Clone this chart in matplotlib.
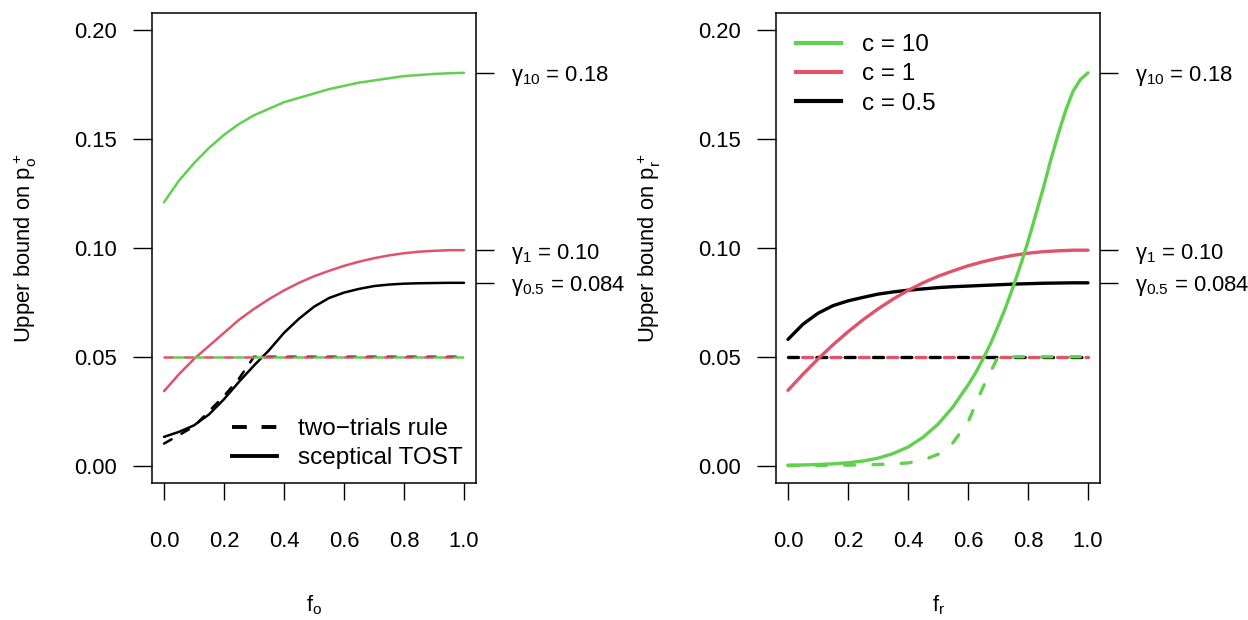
import numpy as np
import matplotlib
matplotlib.use("Agg")
import matplotlib.pyplot as plt
from matplotlib.lines import Line2D

plt.rcParams['font.family'] = ['Liberation Sans', 'DejaVu Sans']
plt.rcParams['mathtext.fontset'] = 'custom'
plt.rcParams['mathtext.rm'] = 'Liberation Sans'
plt.rcParams['mathtext.it'] = 'Liberation Sans'
plt.rcParams['mathtext.bf'] = 'Liberation Sans:bold'

# ---- data ----
f = np.round(np.arange(0, 1.0001, 0.05), 2)

# left panel: bound on p_o^+ against f_o (solid = sceptical TOST)
po_c10 = [0.121, 0.131, 0.139, 0.146, 0.152, 0.157, 0.161, 0.164, 0.167, 0.169, 0.171,
          0.173, 0.1745, 0.176, 0.177, 0.178, 0.179, 0.1795, 0.180, 0.1803, 0.1805]
po_c1 = [0.0342, 0.042, 0.049, 0.055, 0.061, 0.067, 0.072, 0.0765, 0.0805, 0.084, 0.087,
         0.0895, 0.0918, 0.0937, 0.0953, 0.0966, 0.0976, 0.0983, 0.0987, 0.099, 0.099]
po_c05 = [0.0132, 0.0155, 0.0185, 0.0235, 0.0305, 0.0385, 0.046, 0.053, 0.061, 0.0675, 0.073,
          0.077, 0.0795, 0.0812, 0.0825, 0.0832, 0.0836, 0.0838, 0.0839, 0.084, 0.084]
# dashed = two-trials rule
po2_c10 = [0.05] * 21
po2_c1 = [0.05] * 21
po2_c05 = [0.0101, 0.014, 0.018, 0.025, 0.032, 0.040, 0.050, 0.05, 0.05, 0.05, 0.05,
           0.05, 0.05, 0.05, 0.05, 0.05, 0.05, 0.05, 0.05, 0.05, 0.05]

# right panel: bound on p_r^+ against f_r
f_g = [0.0, 0.05, 0.1, 0.15, 0.2, 0.25, 0.3, 0.35, 0.4, 0.45, 0.5, 0.55, 0.6, 0.625, 0.65,
       0.675, 0.7, 0.725, 0.75, 0.775, 0.8, 0.825, 0.85, 0.875, 0.9, 0.925, 0.95, 0.975, 1.0]
pr_c10 = [0.0002, 0.0003, 0.0005, 0.0008, 0.0013, 0.0021, 0.0034, 0.0055, 0.0085, 0.013, 0.019,
          0.027, 0.037, 0.0425, 0.049, 0.056, 0.064, 0.0725, 0.082, 0.092, 0.103, 0.115,
          0.127, 0.140, 0.152, 0.163, 0.172, 0.1775, 0.1805]
pr_c1 = [0.0346, 0.042, 0.049, 0.0555, 0.0615, 0.067, 0.072, 0.0765, 0.0805, 0.084, 0.087,
         0.0895, 0.0918, 0.0937, 0.0953, 0.0966, 0.0976, 0.0983, 0.0987, 0.099, 0.099]
pr_c05 = [0.058, 0.065, 0.070, 0.0735, 0.0757, 0.0773, 0.0788, 0.0798, 0.0806, 0.0812, 0.0818,
          0.0822, 0.0825, 0.0828, 0.0831, 0.0834, 0.0836, 0.0838, 0.0839, 0.084, 0.084]
pr2_c10 = [0.0, 0.0, 0.0, 0.0001, 0.0002, 0.0003, 0.0005, 0.0008, 0.0012, 0.0025, 0.0052,
           0.0105, 0.020, 0.036, 0.050, 0.05, 0.05, 0.05, 0.05, 0.05, 0.05]
pr2_c1 = [0.05] * 21
pr2_c05 = [0.05] * 21

gammas = [0.1805, 0.0989, 0.0840]
gamma_labels = [r'$\gamma_{10}$ = 0.18', r'$\gamma_{1}$ = 0.10', r'$\gamma_{0.5}$ = 0.084']
c_labels = ['c = 10', 'c = 1', 'c = 0.5']
col = {'c10': '#61D04F', 'c1': '#DF536B', 'c05': 'black'}

FS = 15.8
FS_LEG = 17.5


def setup_axes(ax, xlab, ylab):
    ax.set_xlim(-0.04, 1.04)
    ax.set_ylim(-0.008, 0.208)
    ax.set_xticks([0, 0.2, 0.4, 0.6, 0.8, 1.0])
    ax.set_xticklabels(['0.0', '0.2', '0.4', '0.6', '0.8', '1.0'])
    ax.set_yticks([0, 0.05, 0.1, 0.15, 0.2])
    ax.set_yticklabels(['0.00', '0.05', '0.10', '0.15', '0.20'])
    ax.tick_params(axis='x', length=12.5, width=1.0, pad=22, labelsize=FS)
    ax.tick_params(axis='y', length=13.5, width=1.0, pad=12, labelsize=FS)
    for s in ax.spines.values():
        s.set_linewidth(1.1)
    ax.set_xlabel(xlab, fontsize=FS, labelpad=30)
    ax.set_ylabel(ylab, fontsize=FS, labelpad=25)
    ax2 = ax.twinx()
    ax2.set_ylim(ax.get_ylim())
    ax2.set_yticks(gammas)
    ax2.set_yticklabels(gamma_labels)
    ax2.tick_params(axis='y', length=13, width=1.0, pad=12, labelsize=FS)
    for s in ax2.spines.values():
        s.set_visible(False)


fig = plt.figure(figsize=(12.48, 6.2), dpi=100)
axL = fig.add_axes([152 / 1248, 1 - 483 / 620, 324 / 1248, 470 / 620])
axR = fig.add_axes([776 / 1248, 1 - 483 / 620, 324 / 1248, 470 / 620])

# left panel
lwL = 1.8
for ys, yd, k, off in [(po_c05, po2_c05, 'c05', 0), (po_c1, po2_c1, 'c1', 0), (po_c10, po2_c10, 'c10', 4)]:
    axL.plot(f, ys, color=col[k], lw=lwL, solid_capstyle='round')
    axL.plot(f, yd, color=col[k], lw=lwL, linestyle=(off, (3.5, 4.5)), dash_capstyle='round')
setup_axes(axL, r'$f_o$', r'Upper bound on $p_o^+$')
hL = [Line2D([], [], color='black', lw=2.8, linestyle=(0, (3.8, 3.8)), dash_capstyle='butt'),
      Line2D([], [], color='black', lw=2.8)]
axL.legend(hL, ['two\u2212trials rule', 'sceptical TOST'], loc='upper left',
           bbox_to_anchor=(80 / 324, 1 - 405 / 470), frameon=False, fontsize=FS_LEG,
           handlelength=1.85, handletextpad=0.86, labelspacing=0.3,
           borderpad=0, borderaxespad=0)

# right panel
lwR = 2.4
axR.plot(f, pr_c05, color=col['c05'], lw=lwR, solid_capstyle='round')
axR.plot(f, pr2_c05, color=col['c05'], lw=lwR, linestyle=(0, (3, 5.5)), dash_capstyle='round')
axR.plot(f, pr_c1, color=col['c1'], lw=lwR, solid_capstyle='round')
axR.plot(f, pr2_c1, color=col['c1'], lw=lwR, linestyle=(4.25, (3, 5.5)), dash_capstyle='round')
axR.plot(f_g, pr_c10, color=col['c10'], lw=lwR, solid_capstyle='round')
axR.plot(f, pr2_c10, color=col['c10'], lw=lwR, linestyle=(0, (3, 5.5)), dash_capstyle='round')
setup_axes(axR, r'$f_r$', r'Upper bound on $p_r^+$')
hR = [Line2D([], [], color=col[k], lw=3) for k in ['c10', 'c1', 'c05']]
axR.legend(hR, c_labels, loc='upper left', bbox_to_anchor=(20 / 324, 1 - 21 / 470),
           frameon=False, fontsize=FS_LEG, handlelength=1.85, handletextpad=0.86,
           labelspacing=0.3, borderpad=0, borderaxespad=0)

fig.savefig('out.png', dpi=100)
